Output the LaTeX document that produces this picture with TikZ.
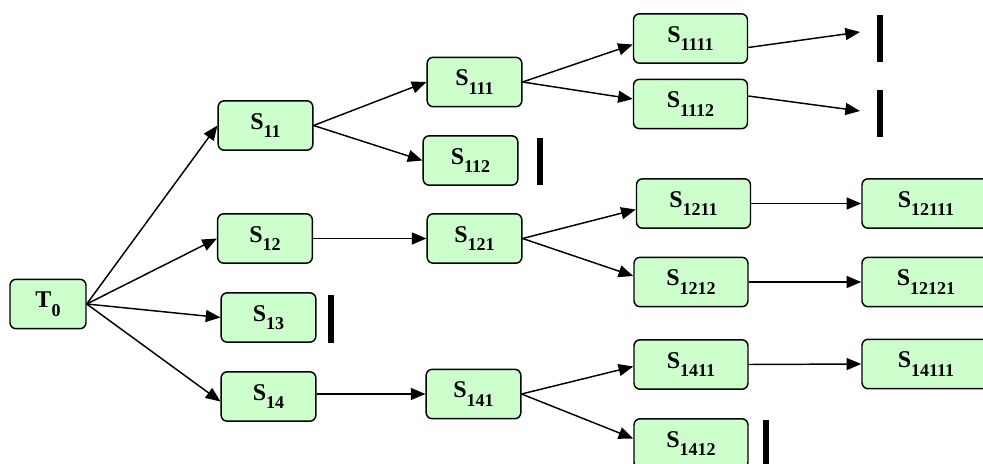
\documentclass[tikz,border=0pt]{standalone}
\usepackage{fontspec}
\setmainfont{Liberation Serif}
\usetikzlibrary{arrows.meta, calc}
\definecolor{boxgreen}{RGB}{204, 255, 204}
\newcommand{\sub}[1]{\raisebox{-0.36em}{\fontsize{13.5}{14}\selectfont #1}}

\begin{document}
\begin{tikzpicture}[
    x=0.75pt, y=-0.75pt,
    state/.style={rectangle, rounded corners=4.5pt, draw=black, fill=boxgreen, line width=1.1pt, minimum width=71pt, minimum height=37pt, inner sep=0pt, font=\fontsize{18}{20}\selectfont\bfseries},
    wide/.style={state, minimum width=85.5pt},
    wider/.style={state, minimum width=96pt},
    endbar/.style={rectangle, fill=black, minimum width=5pt, minimum height=35.5pt, inner sep=0pt},
    arrow/.style={-{Triangle[length=11pt, width=9pt]}, line width=1.1pt}
]
    \useasboundingbox (0,0) rectangle (983,464);

    \node (t0) [state, minimum width=57pt] at (48,304) {T\sub{0}};
    \node (s11) [state] at (265.5,125.5) {S\sub{11}};
    \node (s12) [state] at (265,238.5) {S\sub{12}};
    \node (s13) [state] at (268.5,317.5) {S\sub{13}};
    \node (s14) [state] at (268.5,396.5) {S\sub{14}};
    \node (s111) [state] at (474.5,82) {S\sub{111}};
    \node (s112) [state] at (470.5,160.5) {S\sub{112}};
    \node (s121) [state] at (474.5,238.5) {S\sub{121}};
    \node (s141) [state] at (473.5,394) {S\sub{141}};
    \node (s1111) [wide] at (690.5,38.5) {S\sub{1111}};
    \node (s1112) [wide] at (690.5,104) {S\sub{1112}};
    \node (s1211) [wide] at (693.5,203.5) {S\sub{1211}};
    \node (s1212) [wide] at (691,282) {S\sub{1212}};
    \node (s1411) [wide] at (691,364.5) {S\sub{1411}};
    \node (s1412) [wide] at (691,443.5) {S\sub{1412}};
    \node (s12111) [wider] at (926,203.5) {S\sub{12111}};
    \node (s12121) [wider] at (926,282) {S\sub{12121}};
    \node (s14111) [wider] at (926,364) {S\sub{14111}};

    % dead ends
    \node (bar1111) [endbar] at (880,38.5) {};
    \node (bar1112) [endbar] at (880,113.5) {};
    \node (bar112) [endbar] at (540,161.5) {};
    \node (bar13) [endbar] at (331,319) {};
    \node (bar1412) [endbar] at (766,443.5) {};
    \coordinate (e1111) at (860,32);
    \coordinate (e1112) at (860,111);

    \draw [arrow] (t0.east) -- (s11.west);
    \draw [arrow] (t0.east) -- (s12.west);
    \draw [arrow] (t0.east) -- (s13.west);
    \draw [arrow] (t0.east) -- ($(s14.west)+(0,5)$);
    \draw [arrow] (s11.east) -- (s111.west);
    \draw [arrow] (s11.east) -- (s112.west);
    \draw [arrow] (s12.east) -- (s121.west);
    \draw [arrow] (s14.east |- s141) -- (s141.west);
    \draw [arrow] (s111.east) -- ($(s1111.west)+(0,6)$);
    \draw [arrow] (s111.east) -- ($(s1112.west)+(0,-5)$);
    \draw [arrow] (s121.east) -- ($(s1211.west)+(0,6)$);
    \draw [arrow] (s121.east) -- ($(s1212.west)+(0,-6)$);
    \draw [arrow] (s141.east) -- ($(s1411.west)+(0,2)$);
    \draw [arrow] (s141.east) -- ($(s1412.west)+(0,-5)$);
    \draw [arrow] ($(s1111.east)+(0,9)$) -- (e1111);
    \draw [arrow] ($(s1112.east)+(0,-8)$) -- (e1112);
    \draw [arrow] (s1211.east) -- (s12111.west);
    \draw [arrow] (s1212.east) -- (s12121.west);
    \draw [arrow] (s1411.east) -- (s14111.west);
\end{tikzpicture}
\end{document}
